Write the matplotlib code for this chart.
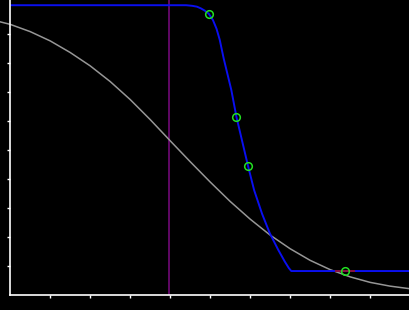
import numpy as np
import matplotlib as mpl
mpl.use('Agg')
import matplotlib.pyplot as plt

# model curve (gray)
model_x = [-0.26, 0.0, 0.5, 1.0, 1.5, 2.0, 2.5, 3.0, 3.5, 4.0, 4.5, 5.0, 5.5, 6.0,
           6.5, 7.0, 7.5, 8.0, 8.5, 9.0, 9.5, 10.0]
model_y = [9.42, 9.33, 9.08, 8.76, 8.36, 7.90, 7.36, 6.74, 6.05, 5.32, 4.60, 3.90,
           3.23, 2.62, 2.07, 1.60, 1.20, 0.88, 0.63, 0.44, 0.31, 0.22]

# fitted curve (blue)
fit_x = [0.0, 4.4, 4.55, 4.67, 4.77, 4.87, 4.97, 5.07, 5.16, 5.24, 5.34, 5.53,
         5.66, 5.95, 6.10, 6.30, 6.49, 6.70, 6.87, 6.97, 7.03, 10.0]
fit_y = [9.99, 9.99, 9.97, 9.94, 9.88, 9.80, 9.69, 9.48, 9.18, 8.80, 8.15, 7.07,
         6.13, 4.44, 3.62, 2.80, 2.14, 1.57, 1.15, 0.93, 0.83, 0.83]

# measured points
pts_x = [4.97, 5.64, 5.94, 8.37]
pts_y = [9.69, 6.14, 4.45, 0.83]
pts_xerr = [0.0, 0.0, 0.0, 0.25]

marker_line = 3.98

fig = plt.figure(figsize=(4.1, 3.1), dpi=100, facecolor='black')
ax = fig.add_axes([0.025, 0.048, 0.975, 0.952], facecolor='black')

ax.axvline(marker_line, color='#7a0a80', lw=1.1, zorder=1)
ax.plot(model_x, model_y, color='#969696', lw=1.1, zorder=2, clip_on=False)
ax.plot(fit_x, fit_y, color='#0a0ff0', lw=1.4, zorder=3)
ax.errorbar(pts_x, pts_y, xerr=pts_xerr, fmt='none', ecolor='#b01010', elinewidth=1.1,
            capsize=0, zorder=4)
ax.plot(pts_x, pts_y, 'o', mfc='none', mec='#22e022', ms=5.5, mew=1.1, zorder=5)

ax.set_xlim(0, 10)
ax.set_ylim(0, 10.17)
ax.set_xticks(np.arange(1, 10))
ax.set_yticks(np.arange(1, 10))
ax.set_xticklabels([])
ax.set_yticklabels([])
ax.tick_params(direction='out', length=2.5, width=1, color='white')
for s in ['top', 'right']:
    ax.spines[s].set_visible(False)
for s in ['left', 'bottom']:
    ax.spines[s].set_color('white')
    ax.spines[s].set_linewidth(1.2)
    ax.spines[s].set_zorder(6)

fig.savefig('out.png', dpi=100, facecolor='black')
